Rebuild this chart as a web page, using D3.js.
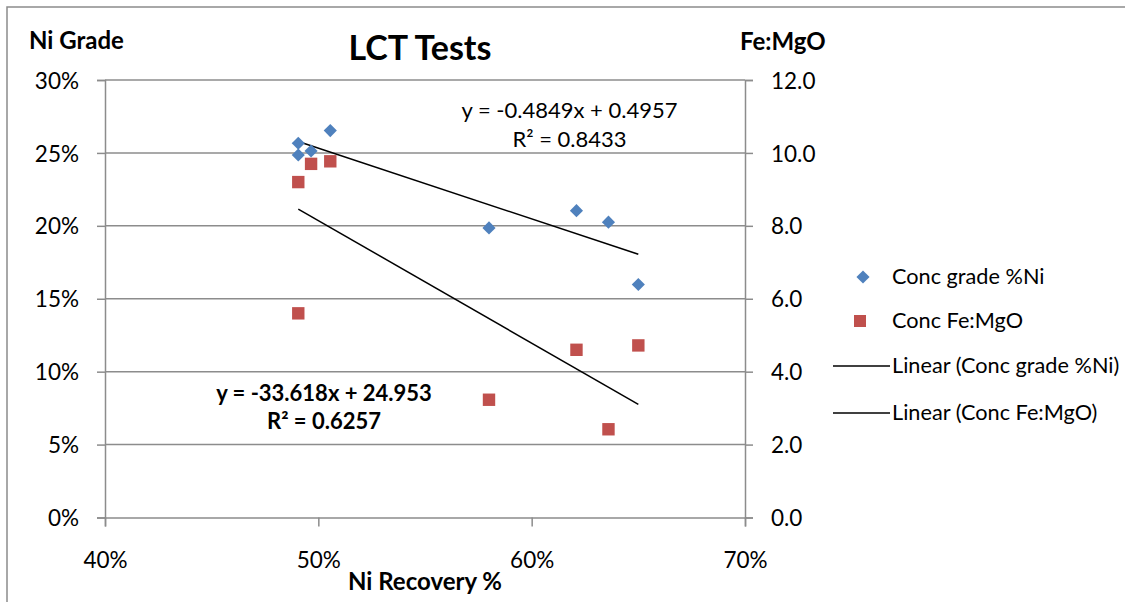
<!DOCTYPE html>
<html>
<head>
<meta charset="utf-8">
<script src="https://cdn.jsdelivr.net/npm/d3@7"></script>
<style>
  html, body { margin: 0; padding: 0; background: #fff; }
  svg { display: block; font-family: Lato, "Open Sans", sans-serif; }
</style>
</head>
<body>
<svg id="chart" width="1125" height="602"></svg>
<script>
// ---- data ----
const recovery = [0.4906, 0.4906, 0.4966, 0.5056, 0.580, 0.621, 0.636, 0.650];
const niGrade  = [0.2566, 0.2486, 0.2513, 0.2653, 0.1986, 0.2104, 0.2025, 0.1598];
const feMgO    = [9.20, 5.60, 9.70, 9.77, 3.23, 4.60, 2.42, 4.72];
const seriesNames = ["Conc grade %Ni", "Conc Fe:MgO", "Linear (Conc grade %Ni)", "Linear (Conc Fe:MgO)"];
const trendSlope = [-0.4849, -33.618];
const trendIntercept = [0.4957, 24.953];
const trendEquations = ["y = -0.4849x + 0.4957", "y = -33.618x + 24.953"];
const trendR2 = ["R² = 0.8433", "R² = 0.6257"];
const xTicks = [0.4, 0.5, 0.6, 0.7];
const yLeftTicks = [0, 0.05, 0.10, 0.15, 0.20, 0.25, 0.30];
const yRightTicks = [0, 2, 4, 6, 8, 10, 12];

// ---- layout ----
const svg = d3.select("#chart");
const L = 105, R = 745, T = 80, B = 517.5;
const gridColor = "#8c8c8c";
const blue = "#4F81BD", red = "#C0504D";

const x = d3.scaleLinear().domain([0.4, 0.7]).range([L, R]);
const yL = d3.scaleLinear().domain([0, 0.3]).range([B, T]);
const yR = d3.scaleLinear().domain([0, 12]).range([B, T]);

// chart area border
svg.append("path").attr("d", `M7,602 L7,7 L1125,7`)
  .attr("fill", "none").attr("stroke", "#8c8c8c").attr("stroke-width", 1.5);

// gridlines
svg.append("g").selectAll("line").data(yLeftTicks.slice(1)).join("line")
  .attr("x1", L).attr("x2", R)
  .attr("y1", d => yL(d)).attr("y2", d => yL(d))
  .attr("stroke", gridColor).attr("stroke-width", 1.5);

// left axis
const gL = svg.append("g").attr("transform", `translate(${L},0)`)
  .call(d3.axisLeft(yL).tickValues(yLeftTicks).tickFormat(d3.format(".0%")).tickSize(8).tickPadding(18));
// right axis
const gR = svg.append("g").attr("transform", `translate(${R},0)`)
  .call(d3.axisRight(yR).tickValues(yRightTicks).tickFormat(d3.format(".1f")).tickSize(8).tickPadding(18));
// bottom axis
const gB = svg.append("g").attr("transform", `translate(0,${B})`)
  .call(d3.axisBottom(x).tickValues(xTicks).tickFormat(d3.format(".0%")).tickSize(9).tickPadding(26));

[gL, gR, gB].forEach(g => {
  g.select(".domain").attr("stroke", gridColor).attr("stroke-width", 1.5);
  g.selectAll(".tick line").attr("stroke", gridColor).attr("stroke-width", 1.5);
  g.selectAll(".tick text").attr("font-family", "Lato").attr("font-size", 22.5).attr("fill", "#000");
});
gL.selectAll(".tick text").attr("dy", "0.36em");
gR.selectAll(".tick text").attr("dy", "0.36em");
gB.selectAll(".tick text").attr("dy", "0.71em");

// trendlines
const xmin = d3.min(recovery), xmax = d3.max(recovery);
const yScales = [yL, yR];
trendSlope.forEach((m, i) => {
  const b = trendIntercept[i];
  svg.append("line")
    .attr("x1", x(xmin)).attr("y1", yScales[i](m * xmin + b))
    .attr("x2", x(xmax)).attr("y2", yScales[i](m * xmax + b))
    .attr("stroke", "#000").attr("stroke-width", 1.5);
});

// markers
const pts = recovery.map((r, i) => ({ r, g: niGrade[i], f: feMgO[i] }));
svg.append("g").selectAll("rect").data(pts).join("rect")
  .attr("x", d => x(d.r) - 6.2).attr("y", d => yR(d.f) - 6.2)
  .attr("width", 12.4).attr("height", 12.4).attr("fill", red);
const diamond = d3.symbol().type(d3.symbolDiamond2).size(110);
svg.append("g").selectAll("path").data(pts).join("path")
  .attr("d", diamond)
  .attr("transform", d => `translate(${x(d.r)},${yL(d.g)})`)
  .attr("fill", blue);

// titles
svg.append("text").attr("x", 420).attr("y", 60).attr("text-anchor", "middle")
  .attr("font-size", 34).attr("font-weight", "bold").text("LCT Tests");
svg.append("text").attr("x", 29).attr("y", 49)
  .attr("font-size", 24).attr("font-weight", "bold").text("Ni Grade");
svg.append("text").attr("x", 740).attr("y", 50)
  .attr("font-size", 24).attr("font-weight", "bold").text("Fe:MgO");
svg.append("text").attr("x", 425).attr("y", 590).attr("text-anchor", "middle")
  .attr("font-size", 24).attr("font-weight", "bold").text("Ni Recovery %");

// equations
const eqPos = [[569.5, 118, 146.5, "normal"], [324, 401, 429, "bold"]];
trendEquations.forEach((t, i) => {
  const p = eqPos[i];
  svg.append("text").attr("x", p[0]).attr("y", p[1]).attr("text-anchor", "middle")
    .attr("font-size", 22).attr("font-weight", p[3]).text(t);
  svg.append("text").attr("x", p[0]).attr("y", p[2]).attr("text-anchor", "middle")
    .attr("font-size", 22).attr("font-weight", p[3]).text(trendR2[i]);
});

// legend
const lg = svg.append("g");
const legY = [277, 321, 366, 413];
lg.append("path").attr("d", diamond).attr("transform", `translate(863,${legY[0]})`).attr("fill", blue);
lg.append("rect").attr("x", 854).attr("y", legY[1] - 6).attr("width", 12).attr("height", 12).attr("fill", red);
[2, 3].forEach(i => {
  lg.append("line").attr("x1", 833).attr("x2", 890).attr("y1", legY[i]).attr("y2", legY[i])
    .attr("stroke", "#000").attr("stroke-width", 1.5);
});
seriesNames.forEach((n, i) => {
  lg.append("text").attr("x", 892).attr("y", legY[i]).attr("dy", "0.33em")
    .attr("font-size", 21.7).text(n);
});
</script>
</body>
</html>
